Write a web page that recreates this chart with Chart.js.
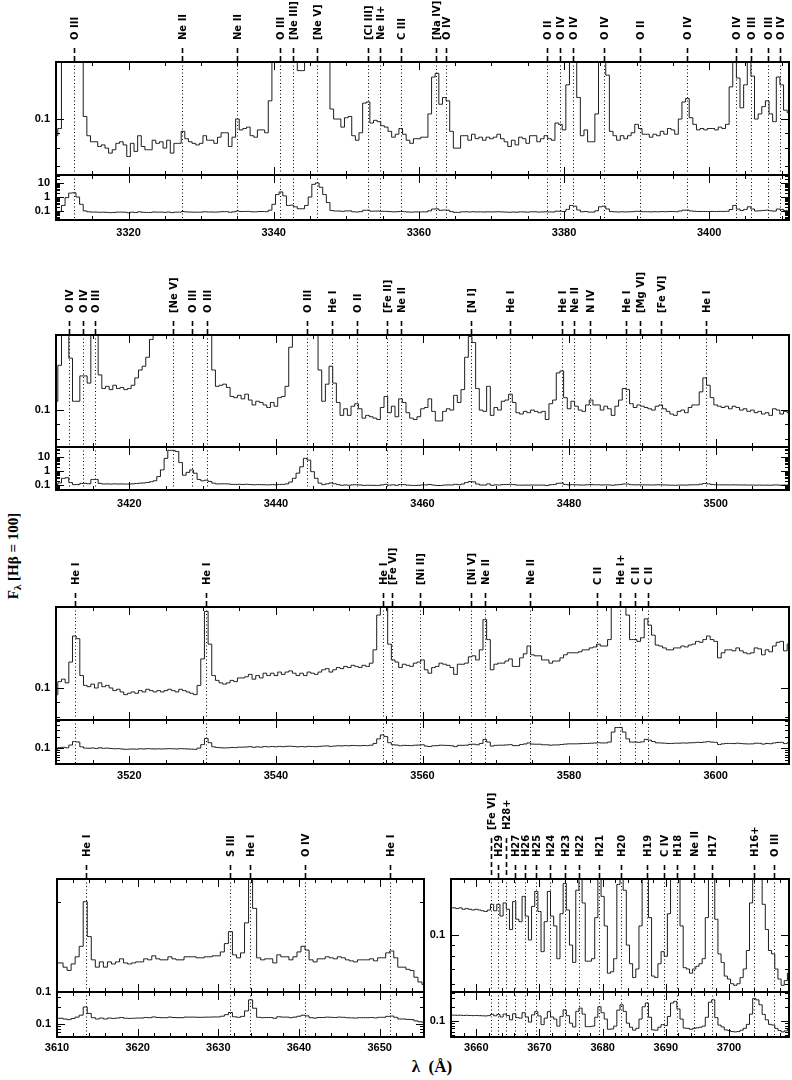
<!DOCTYPE html>
<html>
<head>
<meta charset="utf-8">
<script src="https://cdn.jsdelivr.net/npm/chart.js@4.4.1/dist/chart.umd.min.js"></script>
<style>
  html, body { margin: 0; padding: 0; background: #fff; }
  body { position: relative; width: 792px; height: 1080px; overflow: hidden; }
  canvas { position: absolute; }
  .title { position: absolute; white-space: nowrap; font-family: "Liberation Serif", "DejaVu Serif", serif; font-weight: bold; color: #000; }
  #ytitle { left: 14px; top: 556px; font-size: 15px; transform: translate(-50%, -50%) rotate(-90deg); }
  #ytitle sub { font-size: 11px; vertical-align: -3px; }
  #xtitle { left: 432px; top: 1067px; font-size: 17px; transform: translate(-50%, -50%); }
</style>
</head>
<body>
<div class="title" id="ytitle">F<sub>λ</sub> [Hβ = 100]</div>
<div class="title" id="xtitle">λ&nbsp;&nbsp;(Å)</div>
<script>
// spectrum sampled in 0.5 A bins, flux in units of 1e-3 (H-beta = 100)
const BIN = 0.5;

// row 1: 3310 - 3411 A
const start1 = 3310;
const flux1 = [
  88, 93, 250, 900, 1900, 2000, 1000, 300, 102, 88,
  84, 84, 81, 82, 80, 77, 79, 83, 84, 82,
  75, 83, 78, 88, 81, 79, 79, 85, 83, 84,
  80, 85, 77, 83, 83, 91, 86, 84, 83, 82,
  83, 88, 85, 85, 83, 87, 90, 90, 81, 87,
  100, 92, 93, 94, 88, 87, 92, 92, 90, 115,
  300, 1500, 2300, 1200, 250, 260, 200, 145, 145, 250,
  1000, 8000, 10000, 5000, 1500, 400, 108, 100, 100, 94,
  101, 102, 88, 85, 90, 113, 114, 97, 99, 98,
  95, 94, 91, 87, 89, 93, 89, 85, 83, 86,
  86, 87, 87, 104, 138, 142, 112, 118, 115, 91,
  80, 80, 88, 88, 85, 89, 86, 87, 85, 87,
  86, 87, 89, 86, 84, 81, 85, 82, 87, 86,
  83, 88, 88, 84, 86, 88, 86, 85, 97, 96,
  92, 130, 250, 220, 118, 88, 92, 84, 84, 104,
  200, 220, 140, 91, 88, 85, 88, 86, 88, 90,
  96, 93, 89, 89, 87, 89, 88, 91, 89, 93,
  92, 89, 100, 114, 117, 101, 96, 92, 93, 92,
  93, 93, 92, 94, 93, 96, 128, 250, 137, 109,
  130, 200, 139, 100, 104, 110, 115, 104, 98, 138,
  130, 107, 105
];
const ids1 = ["O III", "Ne II", "Ne II", "O III", "[Ne III]", "[Ne V]", "[Cl III]", "Ne II+", "C III", "[Na IV]", "O IV",
  "O II", "O IV", "O IV", "O IV", "O II", "O IV", "O IV", "O III", "O III", "O IV"];
const idWave1 = [3312.5, 3327.3, 3334.9, 3340.9, 3342.6, 3345.9, 3353.0, 3354.6, 3357.6, 3362.3, 3363.8,
  3377.6, 3379.5, 3381.2, 3385.5, 3390.5, 3396.9, 3403.7, 3405.8, 3408.1, 3409.7];

// row 2: 3410 - 3510 A
const start2 = 3410;
const flux2 = [
  107, 141, 300, 330, 149, 107, 107, 130, 130, 123,
  250, 250, 131, 118, 120, 117, 121, 118, 119, 117,
  118, 121, 128, 136, 140, 150, 172, 200, 400, 1200,
  8000, 30000, 30000, 25000, 4000, 500, 800, 1200, 700, 250,
  200, 220, 180, 136, 120, 121, 122, 119, 111, 110,
  112, 109, 113, 108, 104, 107, 106, 104, 102, 106,
  103, 110, 111, 120, 162, 300, 700, 2000, 8000, 6000,
  900, 300, 136, 107, 122, 140, 123, 106, 96, 101,
  96, 103, 105, 101, 94, 96, 95, 94, 93, 102,
  111, 98, 103, 95, 109, 106, 98, 94, 93, 95,
  101, 102, 109, 99, 92, 92, 99, 101, 100, 112,
  106, 117, 150, 176, 168, 118, 100, 99, 120, 96,
  102, 100, 107, 108, 113, 106, 98, 97, 99, 98,
  100, 99, 98, 99, 93, 105, 108, 133, 135, 110,
  101, 107, 103, 100, 99, 104, 108, 104, 104, 100,
  103, 101, 96, 103, 108, 118, 117, 105, 102, 104,
  103, 102, 101, 100, 103, 104, 101, 99, 97, 96,
  99, 100, 98, 102, 104, 104, 115, 128, 121, 110,
  104, 103, 102, 103, 101, 103, 102, 100, 101, 99,
  100, 98, 99, 97, 98, 96, 101, 100, 97, 99,
  98
];
const ids2 = ["O IV", "O IV", "O III", "[Ne V]", "O III", "O III", "O III", "He I", "O II", "[Fe II]", "Ne II",
  "[N I]", "He I", "He I", "Ne II", "N IV", "He I", "[Mg VI]", "[Fe VI]", "He I"];
const idWave2 = [3411.75, 3413.65, 3415.3, 3425.9, 3428.6, 3430.6, 3444.2, 3447.6, 3451.0, 3455.1, 3457.0,
  3466.6, 3471.9, 3479.0, 3480.7, 3482.9, 3487.8, 3489.7, 3492.5, 3498.7];

// row 3: 3510 - 3610 A
const start3 = 3510;
const flux3 = [
  95, 105, 107, 104, 122, 149, 146, 110, 102, 101,
  103, 100, 104, 101, 102, 100, 98, 99, 97, 95,
  96, 97, 96, 98, 97, 99, 98, 97, 98, 97,
  98, 99, 98, 97, 99, 98, 97, 96, 95, 102,
  125, 180, 140, 110, 106, 104, 103, 104, 106, 105,
  108, 108, 109, 111, 107, 110, 108, 112, 110, 112,
  110, 113, 111, 113, 114, 112, 110, 112, 110, 113,
  112, 111, 113, 115, 116, 113, 115, 117, 116, 118,
  117, 119, 118, 117, 119, 118, 121, 134, 175, 220,
  200, 140, 124, 122, 117, 120, 119, 118, 121, 122,
  124, 115, 112, 117, 118, 121, 120, 119, 117, 111,
  120, 120, 121, 127, 128, 124, 134, 169, 145, 115,
  120, 121, 121, 123, 125, 118, 118, 126, 130, 138,
  129, 128, 128, 124, 124, 121, 123, 123, 126, 129,
  131, 131, 131, 132, 134, 134, 136, 137, 140, 138,
  138, 145, 260, 340, 340, 260, 175, 145, 145, 143,
  147, 170, 162, 150, 139, 138, 136, 134, 134, 136,
  136, 138, 137, 139, 140, 143, 142, 145, 149, 145,
  143, 126, 131, 134, 134, 133, 136, 133, 131, 130,
  131, 136, 135, 129, 134, 132, 138, 142, 143, 133,
  140
];
const ids3 = ["He I", "He I", "He I", "[Fe VI]", "[Ni II]", "[Ni V]", "Ne II", "Ne II", "C II", "He I+", "C II", "C II"];
const idWave3 = [3512.56, 3530.5, 3554.6, 3555.9, 3559.7, 3566.6, 3568.5, 3574.7, 3583.8, 3587.0, 3589.0, 3590.8];

// row 4 left: 3610 - 3655.5 A
const start4a = 3610;
const flux4a = [
  125, 125, 121, 118, 124, 131, 142, 200, 153, 128,
  121, 126, 121, 126, 124, 126, 129, 125, 124, 125,
  126, 126, 129, 128, 132, 129, 128, 128, 131, 129,
  128, 128, 131, 131, 131, 130, 130, 131, 131, 132,
  132, 136, 145, 159, 133, 130, 135, 170, 270, 190,
  130, 128, 129, 129, 125, 133, 131, 131, 128, 131,
  136, 142, 138, 128, 126, 129, 129, 131, 130, 129,
  131, 130, 128, 127, 126, 128, 128, 128, 129, 127,
  130, 130, 135, 137, 130, 121, 121, 119, 118, 112,
  108, 106
];
const ids4a = ["He I", "S III", "He I", "O IV", "He I"];
const idWave4a = [3613.6, 3631.4, 3633.9, 3640.7, 3651.3];

// row 4 right: 3656 - 3709.5 A
const start4b = 3656;
const flux4b = [
  133, 133, 132, 133, 131, 132, 131, 130, 131, 130,
  129, 128, 130, 138, 129, 138, 122, 140, 131, 106,
  142, 118, 115, 150, 122, 95, 135, 158, 128, 84,
  115, 158, 122, 110, 78, 125, 172, 130, 90, 75,
  160, 187, 140, 76, 76, 78, 120, 200, 150, 110,
  67, 68, 78, 170, 220, 160, 90, 74, 64, 70,
  110, 200, 240, 120, 65, 64, 74, 84, 80, 125,
  240, 260, 180, 110, 71, 70, 67, 70, 72, 74,
  78, 120, 250, 280, 118, 82, 75, 65, 63, 60,
  59, 60, 64, 70, 85, 140, 300, 280, 220, 138,
  106, 85, 82, 70, 63, 59, 62, 67
];
const ids4b = ["[Fe VI]", "H29", "H28+", "H27", "H26", "H25", "H24", "H23", "H22", "H21", "H20", "H19", "C IV",
  "H18", "Ne II", "H17", "H16+", "O III"];
const idWave4b = [3662.3, 3663.5, 3664.7, 3666.2, 3667.7, 3669.5, 3671.6, 3674.0, 3676.3, 3679.5, 3682.9, 3687.0,
  3689.7, 3691.7, 3694.5, 3697.3, 3703.9, 3707.1];
const raised4b = ["[Fe VI]", "H28+"];

Chart.defaults.color = "#000";
Chart.defaults.font.family = "'Liberation Sans', Arial, sans-serif";
Chart.defaults.font.size = 11;
Chart.defaults.font.weight = "bold";

function stepTicks(min, max, step) {
  const out = [];
  for (let v = Math.ceil(min / step - 1e-9) * step; v <= max + 1e-9; v += step) out.push(+v.toFixed(4));
  return out;
}

function logTicks(min, max) {
  const out = [];
  for (let e = Math.floor(Math.log10(min)); e <= Math.ceil(Math.log10(max)); e++) {
    for (let k = 1; k <= 9; k++) {
      const v = +(k * Math.pow(10, e)).toPrecision(3);
      if (v >= min && v <= max) out.push(v);
    }
  }
  return out;
}

const isDecade = v => Math.abs(Math.log10(v) - Math.round(Math.log10(v))) < 1e-6;

// frame with inward ticks on all four sides
function framePlugin(p) {
  return {
    id: "frame",
    afterDraw(chart) {
      const { ctx, chartArea: a, scales: { x, y } } = chart;
      ctx.save();
      ctx.strokeStyle = "#000";
      ctx.lineWidth = 1;
      ctx.beginPath();
      x.ticks.forEach(t => {
        const px = Math.round(x.getPixelForValue(t.value)) + 0.5;
        const len = Math.abs(t.value % p.xMajor) < 1e-6 ? 8 : 4;
        ctx.moveTo(px, a.top); ctx.lineTo(px, a.top + len);
        ctx.moveTo(px, a.bottom); ctx.lineTo(px, a.bottom - len);
      });
      y.ticks.forEach(t => {
        const py = Math.round(y.getPixelForValue(t.value)) + 0.5;
        const len = isDecade(t.value) ? 8 : 4;
        ctx.moveTo(a.left, py); ctx.lineTo(a.left + len, py);
        ctx.moveTo(a.right, py); ctx.lineTo(a.right - len, py);
      });
      ctx.stroke();
      ctx.lineWidth = 2;
      ctx.strokeRect(a.left, a.top, a.right - a.left, a.bottom - a.top);
      ctx.restore();
    }
  };
}

// dotted line identifications, with dashed marks and names above the main panels
function idPlugin(p) {
  return {
    id: "lineIds",
    beforeDatasetsDraw(chart) {
      const { ctx, chartArea: a, scales: { x } } = chart;
      ctx.save();
      ctx.strokeStyle = "#000";
      ctx.lineWidth = 1;
      ctx.setLineDash([1, 2.5]);
      p.waves.forEach(w => {
        const px = Math.round(x.getPixelForValue(w)) + 0.5;
        ctx.beginPath(); ctx.moveTo(px, a.top); ctx.lineTo(px, a.bottom); ctx.stroke();
      });
      ctx.restore();
    },
    afterDraw(chart) {
      if (!p.names) return;
      const { ctx, chartArea: a, scales: { x } } = chart;
      ctx.save();
      ctx.fillStyle = "#000";
      ctx.strokeStyle = "#000";
      ctx.font = "bold 10px 'DejaVu Sans', sans-serif";
      p.waves.forEach((w, i) => {
        const px = Math.round(x.getPixelForValue(w)) + 0.5;
        const lift = (p.raised || []).includes(p.names[i]) ? 27 : 0;
        ctx.lineWidth = 1.6;
        ctx.setLineDash([5, 3]);
        ctx.beginPath(); ctx.moveTo(px, a.top - 14 - lift); ctx.lineTo(px, a.top); ctx.stroke();
        ctx.setLineDash([]);
        ctx.save();
        ctx.translate(px + 0.5, a.top - 22 - lift);
        ctx.rotate(-Math.PI / 2);
        ctx.textAlign = "left";
        ctx.textBaseline = "middle";
        ctx.fillText(p.names[i], 0, 0);
        ctx.restore();
      });
      ctx.restore();
    }
  };
}

function makePanel(p) {
  const cv = document.createElement("canvas");
  cv.width = p.w; cv.height = p.h;
  cv.style.left = p.x + "px"; cv.style.top = p.y + "px";
  document.body.appendChild(cv);
  const pts = p.flux.map((v, i) => ({ x: p.start + i * BIN, y: v / 1000 }));
  return new Chart(cv, {
    type: "line",
    data: { datasets: [{ data: pts, stepped: "middle", borderColor: "#1c1c1c", borderWidth: 1, pointRadius: 0, fill: false }] },
    options: {
      animation: false, responsive: false, devicePixelRatio: 1, events: [],
      layout: { autoPadding: false, padding: { left: 0, right: p.padR, top: p.padT, bottom: p.padB } },
      plugins: { legend: { display: false }, tooltip: { enabled: false } },
      scales: {
        x: {
          type: "linear", min: p.xr[0], max: p.xr[1], display: p.xLabels,
          grid: { display: false, drawTicks: false }, border: { display: false },
          afterBuildTicks: s => { s.ticks = stepTicks(p.xr[0], p.xr[1], p.xMinor).map(v => ({ value: v })); },
          ticks: { autoSkip: false, maxRotation: 0, minRotation: 0, padding: p.xPad,
            callback: v => (Math.abs(v % p.xMajor) < 1e-6 ? String(Math.round(v)) : "") },
          afterFit: s => { s.height = p.xLabels ? 24 : 0; s.paddingLeft = s.paddingRight = 0; }
        },
        y: {
          type: "logarithmic", min: p.yr[0], max: p.yr[1],
          grid: { display: false, drawTicks: false }, border: { display: false },
          afterBuildTicks: s => { s.ticks = logTicks(p.yr[0], p.yr[1]).map(v => ({ value: v })); },
          ticks: { autoSkip: false, padding: 6, callback: v => (p.yLabels.includes(v) ? String(v) : "") },
          afterFit: s => { s.width = p.axisW; s.paddingTop = s.paddingBottom = 0; }
        }
      }
    },
    plugins: [idPlugin(p), framePlugin(p)]
  });
}

// panel placement on the page
const rows = [
  { flux: flux1, start: start1, names: ids1, waves: idWave1, xr: [3310, 3411], x0: 0, w: 792, axisW: 56, padR: 3,
    main: [62, 175], sub: [175, 220], mainY: [0.0651, 0.1549], subY: [0.0228, 37.3], subLabels: [0.1, 1, 10],
    xMinor: 5, xMajor: 20, xPad: 6 },
  { flux: flux2, start: start2, names: ids2, waves: idWave2, xr: [3410, 3510], x0: 0, w: 792, axisW: 56, padR: 3,
    main: [335, 447], sub: [447, 490], mainY: [0.0753, 0.178], subY: [0.044, 51.8], subLabels: [0.1, 1, 10],
    xMinor: 5, xMajor: 20, xPad: 7 },
  { flux: flux3, start: start3, names: ids3, waves: idWave3, xr: [3510, 3610], x0: 0, w: 792, axisW: 56, padR: 3,
    main: [607, 720], sub: [720, 764], mainY: [0.0782, 0.1862], subY: [0.0404, 0.526], subLabels: [0.1],
    xMinor: 5, xMajor: 20, xPad: 5 },
  { flux: flux4a, start: start4a, names: ids4a, waves: idWave4a, xr: [3610, 3655.5], x0: 0, w: 430, axisW: 57, padR: 6,
    main: [879, 992], sub: [992, 1037], mainY: [0.1, 0.238], subY: [0.057, 0.375], subLabels: [0.1],
    xMinor: 2, xMajor: 10, xPad: 4 },
  { flux: flux4b, start: start4b, names: ids4b, waves: idWave4b, raised: raised4b, xr: [3656, 3709.5], x0: 400, w: 392, axisW: 51, padR: 3,
    main: [879, 992], sub: [992, 1037], mainY: [0.055, 0.18], subY: [0.046, 0.41], subLabels: [0.1],
    xMinor: 2, xMajor: 10, xPad: 4 }
];

rows.forEach(r => {
  const padT = Math.min(r.main[0], 92);
  const padB = 8;
  makePanel({
    flux: r.flux, start: r.start, names: r.names, waves: r.waves, raised: r.raised,
    xr: r.xr, xMinor: r.xMinor, xMajor: r.xMajor, xLabels: false, xPad: r.xPad,
    yr: r.mainY, yLabels: [0.1], axisW: r.axisW, padR: r.padR, padT: padT, padB: padB,
    x: r.x0, w: r.w, y: r.main[0] - padT, h: padT + (r.main[1] - r.main[0]) + padB
  });
  makePanel({
    flux: r.flux, start: r.start, names: null, waves: r.waves,
    xr: r.xr, xMinor: r.xMinor, xMajor: r.xMajor, xLabels: true, xPad: r.xPad,
    yr: r.subY, yLabels: r.subLabels, axisW: r.axisW, padR: r.padR, padT: 0, padB: 0,
    x: r.x0, w: r.w, y: r.sub[0], h: (r.sub[1] - r.sub[0]) + 24
  });
});
</script>
</body>
</html>
